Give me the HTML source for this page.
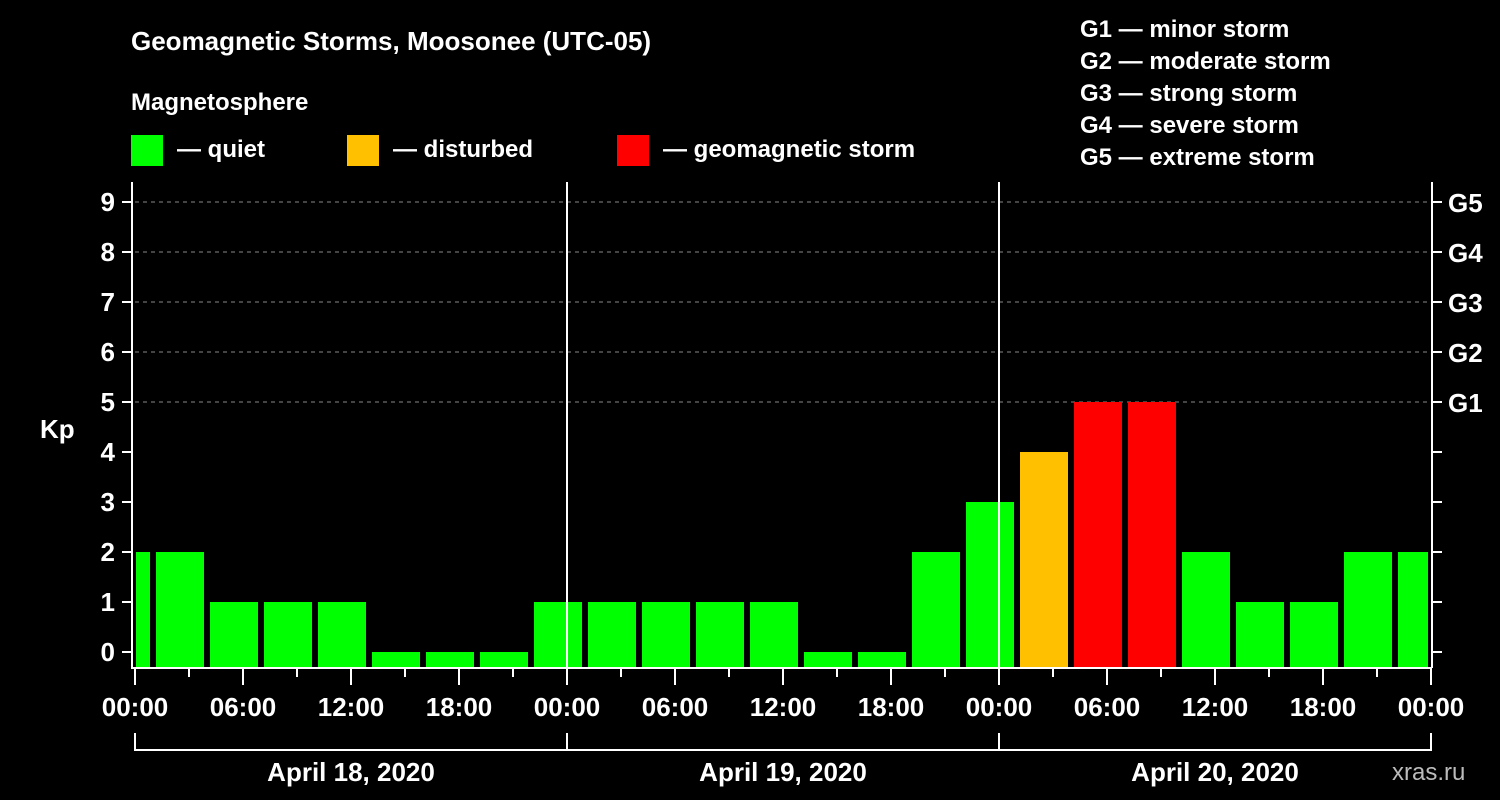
<!DOCTYPE html>
<html><head><meta charset="utf-8"><style>
body{margin:0;background:#000;}
svg{display:block;font-family:"Liberation Sans",Arial,sans-serif;font-weight:bold;}
</style></head><body>
<svg width="1500" height="800" viewBox="0 0 1500 800">
<rect width="1500" height="800" fill="#000"/>
<text x="131" y="50" fill="#fff" font-size="26">Geomagnetic Storms, Moosonee (UTC-05)</text>
<text x="131" y="110" fill="#fff" font-size="24">Magnetosphere</text>
<g><rect x="131" y="135" width="32" height="31" fill="#00ff00"/><text x="177" y="157" fill="#fff" font-size="24">— quiet</text></g>
<g><rect x="347" y="135" width="32" height="31" fill="#ffc000"/><text x="393" y="157" fill="#fff" font-size="24">— disturbed</text></g>
<g><rect x="617" y="135" width="32" height="31" fill="#ff0000"/><text x="663" y="157" fill="#fff" font-size="24">— geomagnetic storm</text></g>
<g fill="#fff" font-size="24">
<text x="1080" y="37">G1 — minor storm</text>
<text x="1080" y="69">G2 — moderate storm</text>
<text x="1080" y="101">G3 — strong storm</text>
<text x="1080" y="133">G4 — severe storm</text>
<text x="1080" y="165">G5 — extreme storm</text>
</g>
<text x="40" y="438" fill="#fff" font-size="26">Kp</text>
<text x="1500" y="0" fill="#aaa" font-size="24"><tspan x="1392" y="780" fill="#bbb" font-weight="normal">xras.ru</tspan></text>
<g id="plot"></g>
</svg>
<script>
const kpValues=[2,2,1,1,1,0,0,0,1,1,1,1,1,0,0,2,3,4,5,5,2,1,1,2,2];
const barStartHours=[-2,1,4,7,10,13,16,19,22,25,28,31,34,37,40,43,46,49,52,55,58,61,64,67,70];
const yTicks=[0,1,2,3,4,5,6,7,8,9];
const gLabels=["G1","G2","G3","G4","G5"];
const gLevels=[5,6,7,8,9];
const hourTickLabels=["00:00","06:00","12:00","18:00","00:00","06:00","12:00","18:00","00:00","06:00","12:00","18:00","00:00"];
const dayLabels=["April 18, 2020","April 19, 2020","April 20, 2020"];
const X0=135,X1=1431,PH=18,Y0=652,PK=50,TOP=182,BOT=668;
const xs=h=>X0+h*PH, ys=k=>Y0-k*PK;
const NS="http://www.w3.org/2000/svg";
const g=document.getElementById('plot');
function mk(t,a){const e=document.createElementNS(NS,t);for(const k in a)e.setAttribute(k,a[k]);g.appendChild(e);return e;}
gLevels.forEach((k,i)=>{
 const l=mk('line',{x1:X0,x2:X1,y1:ys(k),y2:ys(k),stroke:'#888','stroke-dasharray':'4,4','stroke-width':1});
 
 
 const t=mk('text',{x:1448,y:ys(k)+10,fill:'#fff','font-size':26});t.textContent=gLabels[i];
 
 
});
kpValues.forEach((v,i)=>{
 let a=Math.max(xs(barStartHours[i])+3,X0+1), b=Math.min(xs(barStartHours[i]+3)-3,X1-3);
 const col=v>=5?'#ff0000':(v>=4?'#ffc000':'#00ff00');
 const r=mk('rect',{x:a,y:ys(v),width:b-a,height:BOT-ys(v),fill:col});
 
 
});
[24,48].forEach(h=>{const l=mk('line',{x1:xs(h),x2:xs(h),y1:TOP,y2:BOT,stroke:'#fff','stroke-width':2});
 
 });
let ax=mk('path',{d:`M${X0-3} ${TOP}V${BOT}H${X1+1}M${X1+1} ${TOP}V${BOT}`,stroke:'#fff','stroke-width':2,fill:'none'});


yTicks.forEach(k=>{
 mk('line',{x1:X0-13,x2:X0-3,y1:ys(k),y2:ys(k),stroke:'#fff','stroke-width':2});
 mk('line',{x1:X1+1,x2:X1+11,y1:ys(k),y2:ys(k),stroke:'#fff','stroke-width':2});
 const t=mk('text',{x:X0-20,y:ys(k)+9,fill:'#fff','font-size':26,'text-anchor':'end'});t.textContent=k;
 
 
});
for(let h=0;h<=72;h+=3){mk('line',{x1:xs(h),x2:xs(h),y1:BOT,y2:h%6==0?685:677,stroke:'#fff','stroke-width':2});}
hourTickLabels.forEach((s,i)=>{const t=mk('text',{x:xs(i*6),y:716,fill:'#fff','font-size':26,'text-anchor':'middle'});t.textContent=s;
 
 });
let br=mk('path',{d:`M${X0} 733V750H${X1}V733M${xs(24)} 733V750M${xs(48)} 733V750`,stroke:'#fff','stroke-width':2,fill:'none'});


dayLabels.forEach((s,i)=>{const t=mk('text',{x:xs(i*24+12),y:781,fill:'#fff','font-size':26,'text-anchor':'middle'});t.textContent=s;
 
 });
</script>
</body></html>
